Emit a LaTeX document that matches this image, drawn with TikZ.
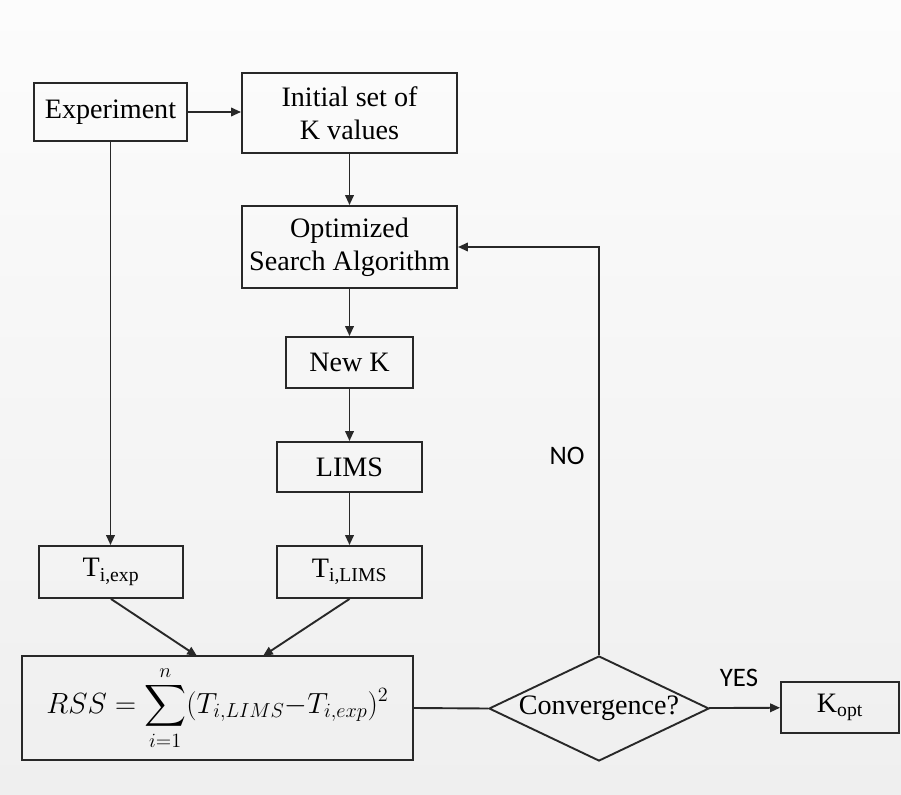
\documentclass[tikz,border=0pt]{standalone}
\usepackage{amsmath}
\usepackage{fontspec}
\setmainfont{Liberation Serif}
\newfontfamily\answerfont{Carlito}
\usetikzlibrary{shapes.geometric,arrows.meta}
\definecolor{PaperTop}{RGB}{252,252,252}
\definecolor{PaperGray}{RGB}{239,239,239}
\definecolor{InkGray}{RGB}{40,40,40}
\tikzset{
	stage/.style={draw=InkGray,line width=1.35pt,align=center,inner sep=2pt,
		font=\fontsize{20}{23.5}\selectfont},
	decision/.style={diamond,draw=InkGray,line width=1.35pt,aspect=2.1,inner sep=0pt,
		font=\fontsize{20}{23.5}\selectfont},
	flow/.style={draw=InkGray,line width=1.35pt,-{Triangle[length=7pt,width=6pt]}},
	link/.style={draw=InkGray,line width=1.35pt},
	answer/.style={text=black,font=\fontsize{19}{22}\answerfont},
}

\begin{document}
\begin{tikzpicture}[x=0.025cm,y=-0.025cm]
	\shade[top color=PaperTop,bottom color=PaperGray] (0,0) rectangle (901,795);
	\useasboundingbox (0,0) rectangle (901,795);
	\node[stage,minimum width=3.825cm,minimum height=1.45cm] (exp) at (110.5,112) {Experiment};
	\node[stage,minimum width=5.375cm,minimum height=2cm] (init) at (349.5,113) {Initial set of\\K values};
	\node[stage,minimum width=5.375cm,minimum height=2.05cm] (opt) at (349.5,247) {Optimized\\Search Algorithm};
	\node[stage,minimum width=3.175cm,minimum height=1.275cm] (newk) at (349.5,362.5) {New K};
	\node[stage,minimum width=3.625cm,minimum height=1.25cm] (lims) at (349.5,467) {LIMS};
	\node[stage,minimum width=3.6cm,minimum height=1.3cm] (texp) at (111,572) {T\textsubscript{i,exp}};
	\node[stage,minimum width=3.625cm,minimum height=1.3cm] (tlims) at (349.5,572) {T\textsubscript{i,LIMS}};
	\node[stage,minimum width=9.775cm,minimum height=2.6cm] (rss) at (217.5,708)
		{$\displaystyle RSS=\sum_{i=1}^{n}(T_{i,LIMS}{-}T_{i,exp})^2$};
	\node[decision,minimum width=5.5cm,minimum height=2.625cm] (conv) at (599,708.5) {Convergence?};
	\node[stage,minimum width=2.95cm,minimum height=1.275cm] (kopt) at (840,707.5) {K\textsubscript{opt}};
	\node[answer] (no) at (567,456) {NO};
	\node[answer] (yes) at (739,678) {YES};
	\coordinate (joinexp) at (197,656);
	\coordinate (joinlims) at (263,656);
	\draw[flow] (exp.east) -- (exp.east -| init.west);
	\draw[flow] (init) -- (opt);
	\draw[flow] (opt) -- (newk);
	\draw[flow] (newk) -- (lims);
	\draw[flow] (lims) -- (tlims);
	\draw[flow] (exp.south) -- (exp.south |- texp.north);
	\draw[flow] (texp.south) -- (joinexp);
	\draw[flow] (tlims.south) -- (joinlims);
	\draw[link] (rss.east) -- (conv.west);
	\draw[flow] (conv) -- (kopt);
	\draw[flow] (conv.north) |- (opt.east);
\end{tikzpicture}
\end{document}
